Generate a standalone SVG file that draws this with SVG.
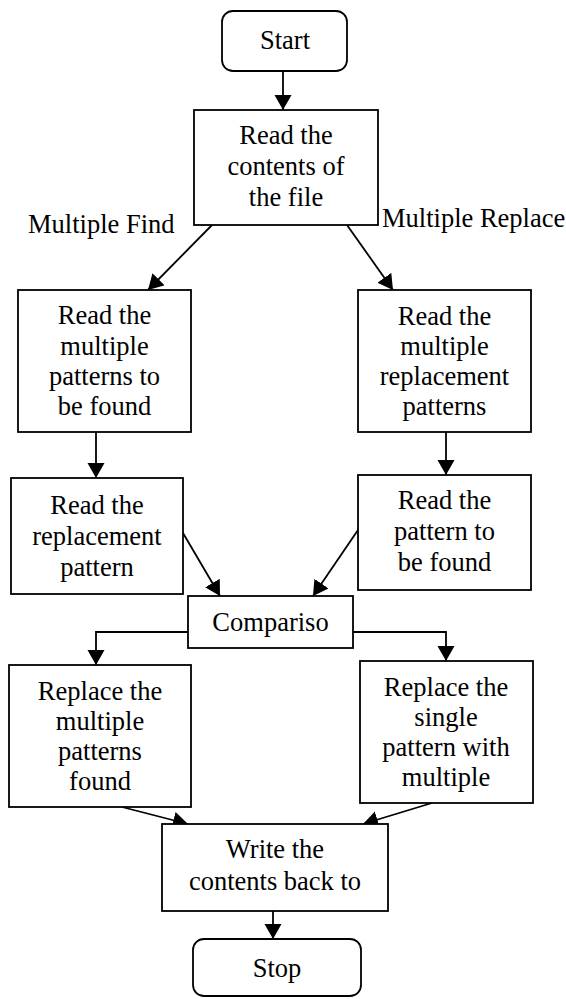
<svg xmlns="http://www.w3.org/2000/svg" width="566" height="999" viewBox="0 0 566 999">
  <style>
    .box { fill: #ffffff; stroke: #000000; stroke-width: 1.8; }
    .lbl { font-family: "Liberation Serif", "Times New Roman", serif; font-size: 26.5px; fill: #000000; text-anchor: middle; }
    .side { font-family: "Liberation Serif", "Times New Roman", serif; font-size: 26.5px; fill: #000000; }
    .link { fill: none; stroke: #000000; stroke-width: 1.8; marker-end: url(#head); }
  </style>
  <defs>
    <marker id="head" markerUnits="userSpaceOnUse" markerWidth="16" markerHeight="18" refX="15" refY="8.5" orient="auto">
      <path d="M0,0 L15,8.5 L0,17 z" fill="#000000"/>
    </marker>
  </defs>
  <rect width="566" height="999" fill="#ffffff"/>

  <g id="connectors">
    <line class="link" x1="283" y1="71" x2="283" y2="110"/>
    <line class="link" x1="212" y1="225" x2="148" y2="290"/>
    <line class="link" x1="347" y1="225" x2="393" y2="290"/>
    <line class="link" x1="96" y1="432" x2="96" y2="478"/>
    <line class="link" x1="446" y1="432" x2="446" y2="475"/>
    <line class="link" x1="183" y1="533" x2="220" y2="596"/>
    <line class="link" x1="358" y1="530" x2="313" y2="596"/>
    <polyline class="link" points="188,632 96,632 96,665"/>
    <polyline class="link" points="353,632 446,632 446,661"/>
    <line class="link" x1="122" y1="807" x2="188" y2="824"/>
    <line class="link" x1="432" y1="803" x2="363" y2="824"/>
    <line class="link" x1="273" y1="911" x2="273" y2="939"/>
  </g>

  <g id="branch-labels">
    <text class="side" x="28" y="233">Multiple Find</text>
    <text class="side" x="382" y="227">Multiple Replace</text>
  </g>

  <g id="start">
    <rect class="box" x="222" y="11" width="125" height="60" rx="11"/>
    <text class="lbl" x="285" y="49">Start</text>
  </g>

  <g id="read-file">
    <rect class="box" x="194" y="110" width="184" height="115"/>
    <text class="lbl" x="286" y="144">Read the</text>
    <text class="lbl" x="286" y="175">contents of</text>
    <text class="lbl" x="286" y="206">the file</text>
  </g>

  <g id="read-find-patterns">
    <rect class="box" x="18" y="290" width="173" height="142"/>
    <text class="lbl" x="104.5" y="324">Read the</text>
    <text class="lbl" x="104.5" y="355">multiple</text>
    <text class="lbl" x="104.5" y="385">patterns to</text>
    <text class="lbl" x="104.5" y="415">be found</text>
  </g>

  <g id="read-replacement-patterns">
    <rect class="box" x="358" y="290" width="173" height="142"/>
    <text class="lbl" x="444.5" y="325">Read the</text>
    <text class="lbl" x="444.5" y="355">multiple</text>
    <text class="lbl" x="444.5" y="385">replacement</text>
    <text class="lbl" x="444.5" y="415">patterns</text>
  </g>

  <g id="read-replacement">
    <rect class="box" x="11" y="478" width="172" height="116"/>
    <text class="lbl" x="97" y="514">Read the</text>
    <text class="lbl" x="97" y="545">replacement</text>
    <text class="lbl" x="97" y="576">pattern</text>
  </g>

  <g id="read-pattern">
    <rect class="box" x="358" y="475" width="173" height="115"/>
    <text class="lbl" x="444.5" y="509">Read the</text>
    <text class="lbl" x="444.5" y="540">pattern to</text>
    <text class="lbl" x="444.5" y="571">be found</text>
  </g>

  <g id="comparison">
    <rect class="box" x="188" y="596" width="165" height="52"/>
    <text class="lbl" x="270.5" y="631">Compariso</text>
  </g>

  <g id="replace-multiple">
    <rect class="box" x="9" y="665" width="182" height="142"/>
    <text class="lbl" x="100" y="700">Replace the</text>
    <text class="lbl" x="100" y="730">multiple</text>
    <text class="lbl" x="100" y="760">patterns</text>
    <text class="lbl" x="100" y="790">found</text>
  </g>

  <g id="replace-single">
    <rect class="box" x="360" y="661" width="173" height="142"/>
    <text class="lbl" x="446" y="696">Replace the</text>
    <text class="lbl" x="446" y="726">single</text>
    <text class="lbl" x="446" y="756">pattern with</text>
    <text class="lbl" x="446" y="786">multiple</text>
  </g>

  <g id="write-back">
    <rect class="box" x="162" y="824" width="226" height="87"/>
    <text class="lbl" x="275" y="858">Write the</text>
    <text class="lbl" x="275" y="890">contents back to</text>
  </g>

  <g id="stop">
    <rect class="box" x="193" y="939" width="168" height="57" rx="11"/>
    <text class="lbl" x="277" y="977">Stop</text>
  </g>
</svg>
